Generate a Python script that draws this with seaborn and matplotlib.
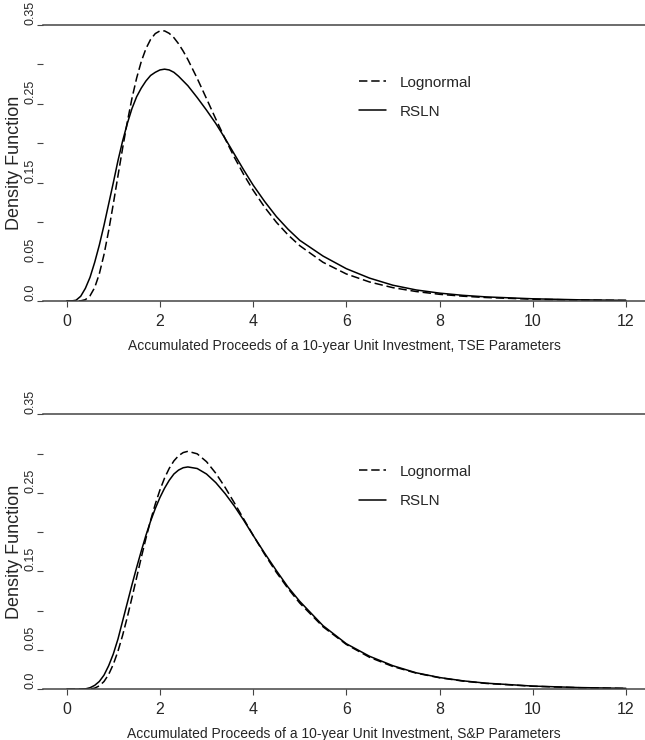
import matplotlib
matplotlib.use("Agg")
import matplotlib.pyplot as plt
import seaborn as sns
import pandas as pd

# x grid of the density curves (accumulated proceeds)
x_vals = [0.0, 0.1, 0.2, 0.3, 0.4, 0.5, 0.6, 0.7, 0.8, 0.9, 1.0, 1.1, 1.2, 1.3, 1.4,
          1.5, 1.6, 1.7, 1.8, 1.9, 2.0, 2.1, 2.2, 2.3, 2.4, 2.5, 2.6, 2.8, 3.0, 3.2,
          3.4, 3.6, 3.8, 4.0, 4.25, 4.5, 4.75, 5.0, 5.5, 6.0, 6.5, 7.0, 7.5, 8.0, 8.5,
          9.0, 10.0, 11.0, 12.0]

tse_lognormal = [0.0, 0.0, 0.0, 0.0002, 0.0017, 0.0066, 0.0170, 0.0345, 0.0589, 0.0891,
                 0.1232, 0.1588, 0.1940, 0.2270, 0.2570, 0.2826, 0.3037, 0.3200, 0.3317,
                 0.3391, 0.3425, 0.3425, 0.3394, 0.3339, 0.3262, 0.3168, 0.3062, 0.2823,
                 0.2566, 0.2307, 0.2056, 0.1820, 0.1602, 0.1405, 0.1187, 0.0998, 0.0838,
                 0.0702, 0.0491, 0.0343, 0.0241, 0.0169, 0.0120, 0.0085, 0.0061, 0.0044,
                 0.0023, 0.0012, 0.0007]
tse_rsln = [0.0, 0.0, 0.001, 0.006, 0.016, 0.030, 0.049, 0.071, 0.096, 0.123,
            0.150, 0.178, 0.203, 0.225, 0.244, 0.259, 0.270, 0.279, 0.286,
            0.290, 0.293, 0.294, 0.293, 0.290, 0.285, 0.279, 0.273, 0.258,
            0.242, 0.225, 0.206, 0.186, 0.166, 0.147, 0.126, 0.107, 0.091,
            0.077, 0.057, 0.041, 0.029, 0.020, 0.014, 0.0100, 0.0072, 0.0052,
            0.0028, 0.0015, 0.0008]

sp_lognormal = [0.0, 0.0, 0.0, 0.0, 0.0001, 0.0004, 0.0015, 0.0044, 0.0099, 0.0189,
                0.0318, 0.0485, 0.0688, 0.0918, 0.1166, 0.1422, 0.1677, 0.1921, 0.2150,
                0.2356, 0.2536, 0.2689, 0.2812, 0.2907, 0.2973, 0.3013, 0.3029, 0.2997,
                0.2897, 0.2749, 0.2569, 0.2370, 0.2165, 0.1961, 0.1716, 0.1488, 0.1282,
                0.1098, 0.0796, 0.0571, 0.0407, 0.0290, 0.0206, 0.0147, 0.0105, 0.0075,
                0.0039, 0.0020, 0.0011]
sp_rsln = [0.0, 0.0, 0.0, 0.0001, 0.0005, 0.002, 0.005, 0.010, 0.018, 0.030,
           0.045, 0.064, 0.087, 0.110, 0.133, 0.155, 0.176, 0.196, 0.214,
           0.230, 0.244, 0.256, 0.266, 0.274, 0.279, 0.282, 0.283, 0.281,
           0.274, 0.263, 0.249, 0.233, 0.215, 0.196, 0.173, 0.151, 0.130,
           0.112, 0.081, 0.058, 0.042, 0.030, 0.021, 0.015, 0.0108, 0.0078,
           0.0041, 0.0022, 0.0012]

y_ticks = [0.0, 0.05, 0.10, 0.15, 0.20, 0.25, 0.30, 0.35]
y_ticklabels = ['0.0', '0.05', '', '0.15', '', '0.25', '', '0.35']
x_ticks = [0, 2, 4, 6, 8, 10, 12]
x_labels = ['Accumulated Proceeds of a 10-year Unit Investment, TSE Parameters',
            'Accumulated Proceeds of a 10-year Unit Investment, S&P Parameters']

sns.set_style('white')
plt.rcParams['font.family'] = ['Liberation Sans', 'DejaVu Sans']

fig = plt.figure(figsize=(6.45, 7.4), dpi=100)
ax1 = fig.add_axes([43 / 645, 1 - 301 / 740, 602 / 645, 276 / 740])
ax2 = fig.add_axes([43 / 645, 1 - 689.3 / 740, 602 / 645, 275 / 740])

panels = [(ax1, tse_lognormal, tse_rsln, x_labels[0]),
          (ax2, sp_lognormal, sp_rsln, x_labels[1])]

for ax, ln, rs, xlab in panels:
    df = pd.DataFrame({
        'x': x_vals * 2,
        'density': ln + rs,
        'model': ['Lognormal'] * len(x_vals) + ['RSLN'] * len(x_vals),
    })
    sns.lineplot(data=df, x='x', y='density', hue='model', style='model',
                 palette={'Lognormal': 'black', 'RSLN': 'black'},
                 dashes={'Lognormal': (5.5, 2.5), 'RSLN': ''},
                 linewidth=1.1, ax=ax, legend=True)

    ax.set_xlim(-0.509, 12.41)
    ax.set_ylim(0, 0.35)
    for side in ['left', 'right']:
        ax.spines[side].set_visible(False)
    for side in ['top', 'bottom']:
        ax.spines[side].set_color('#444444')
        ax.spines[side].set_linewidth(1.1)

    ax.set_xticks(x_ticks)
    ax.set_xticklabels([str(t) for t in x_ticks], fontsize=11.5)
    ax.set_yticks(y_ticks)
    ax.set_yticklabels(y_ticklabels, fontsize=9, rotation=90, va='bottom')
    ax.tick_params(axis='x', direction='out', length=4, width=0.8, pad=5.5,
                   color='#444444', bottom=True)
    ax.tick_params(axis='y', direction='out', length=4, width=0.8, pad=0.5,
                   color='#444444', left=True)

    ax.set_xlabel(xlab, fontsize=10, labelpad=7)
    ax.set_ylabel('Density Function', fontsize=13)
    ax.yaxis.set_label_coords(-0.033, 0.5)

    handles, labels = ax.get_legend_handles_labels()
    ax.legend(handles, labels, loc='upper left', bbox_to_anchor=(0.525, 0.817),
              frameon=False, borderpad=0, borderaxespad=0, handlelength=1.76,
              handletextpad=0.92, labelspacing=1.0,
              prop={'size': 11})

fig.savefig('out.png', dpi=100)
